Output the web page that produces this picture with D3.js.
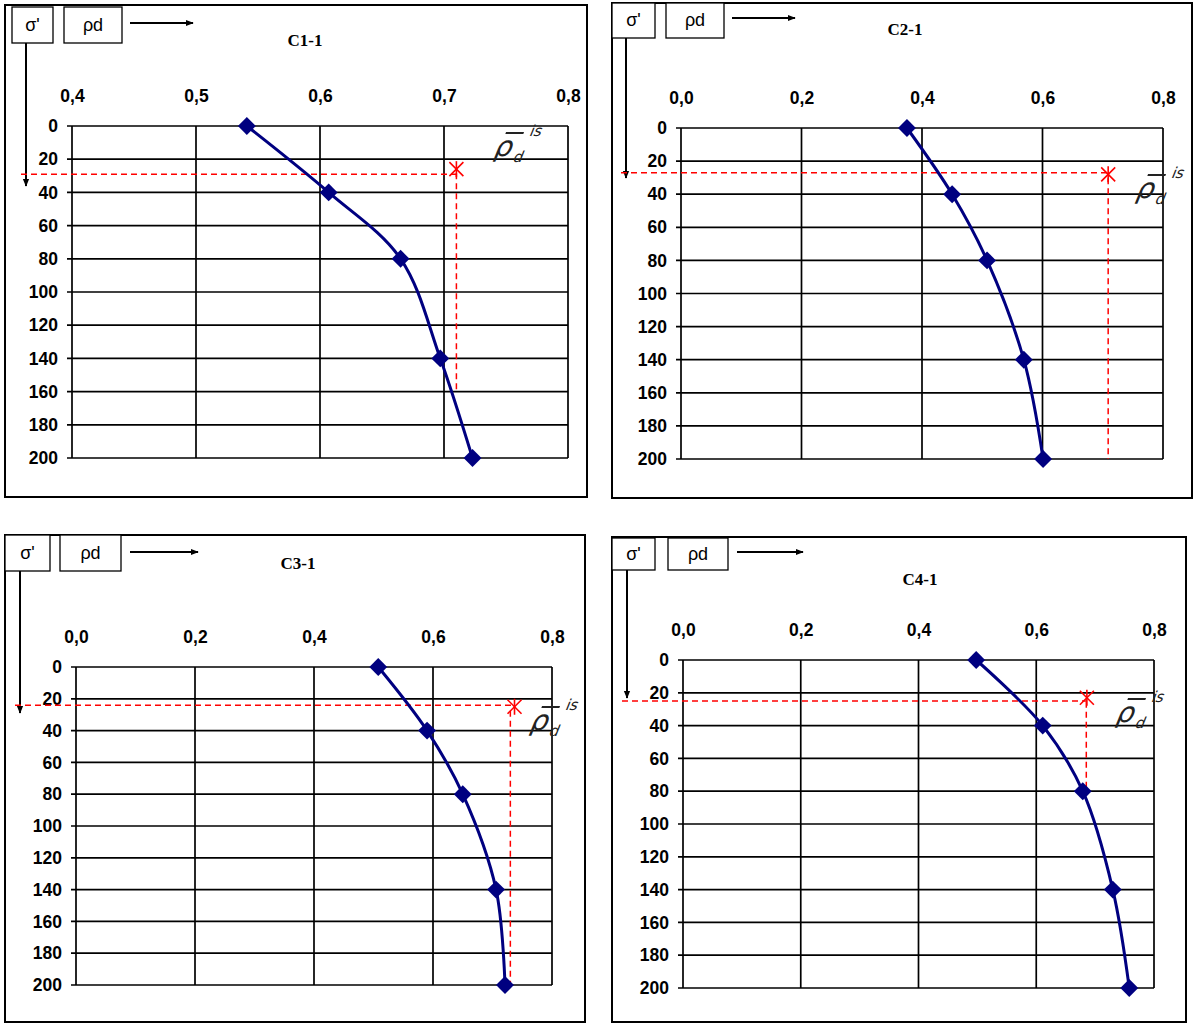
<!DOCTYPE html>
<html>
<head>
<meta charset="utf-8">
<script src="https://cdn.jsdelivr.net/npm/d3@7"></script>
<style>
  html, body { margin: 0; padding: 0; background: #fff; }
  svg { display: block; }
</style>
</head>
<body>
<svg id="chart" width="1194" height="1025"></svg>
<script>
// Effective stress levels (kPa) at which dry density was measured
const stress = [0, 40, 80, 140, 200];
// Dry density ρd per sample
const rhoC1 = [0.541, 0.607, 0.665, 0.697, 0.723];
const rhoC2 = [0.375, 0.450, 0.508, 0.569, 0.601];
const rhoC3 = [0.508, 0.590, 0.650, 0.706, 0.721];
const rhoC4 = [0.498, 0.611, 0.679, 0.730, 0.758];
// In-situ density reference point (ρd, σ') per sample
const refC1 = [0.710, 26];
const refC2 = [0.709, 28];
const refC3 = [0.737, 25];
const refC4 = [0.686, 23];
// Stress level at which the dashed guide crosses the left edge
const guideC1 = 29, guideC2 = 27, guideC3 = 24, guideC4 = 25;
// Axis ticks
const yTicks = [0, 20, 40, 60, 80, 100, 120, 140, 160, 180, 200];
const xTicksC1 = [0.4, 0.5, 0.6, 0.7, 0.8];
const xTicksStd = [0.0, 0.2, 0.4, 0.6, 0.8];
const titles = ["C1-1", "C2-1", "C3-1", "C4-1"];

const svg = d3.select("#chart");
const NAVY = "#000080";
const SANS = "'Liberation Sans', Arial, sans-serif";
const fmt = v => d3.format(".1f")(v).replace(".", ",");

const panels = [
  { title: titles[0], rho: rhoC1, ref: refC1, guide: guideC1, vDropTo: 160, xTicks: xTicksC1, xDomain: [0.4, 0.8],
    outer: [5, 5, 587, 497], plot: [72, 126, 568, 458],
    sigBox: [12, 7, 53, 43], rhoBox: [64, 7, 122, 43], arrowY: 23, arrowX: [130, 193], downX: 26, downEnd: 186,
    titlePos: [305, 46], vSlant: 0, symPos: [494, 152] },
  { title: titles[1], rho: rhoC2, ref: refC2, guide: guideC2, vDropTo: 200, xTicks: xTicksStd, xDomain: [0, 0.8],
    outer: [612, 3, 1192, 498], plot: [681, 128, 1163, 459],
    sigBox: [612, 3, 655, 38], rhoBox: [666, 3, 724, 38], arrowY: 18, arrowX: [732, 795], downX: 626, downEnd: 178,
    titlePos: [905, 35], vSlant: 0, symPos: [1136, 194] },
  { title: titles[2], rho: rhoC3, ref: refC3, guide: guideC3, vDropTo: 200, xTicks: xTicksStd, xDomain: [0, 0.8],
    outer: [5, 535, 585, 1022], plot: [76, 667, 552, 985],
    sigBox: [5, 535, 50, 571], rhoBox: [60, 535, 121, 571], arrowY: 552, arrowX: [130, 198], downX: 20, downEnd: 713,
    titlePos: [298, 569], vSlant: -0.007, symPos: [530, 726] },
  { title: titles[3], rho: rhoC4, ref: refC4, guide: guideC4, vDropTo: 80, xTicks: xTicksStd, xDomain: [0, 0.8],
    outer: [612, 537, 1186, 1022], plot: [683, 660, 1154, 988],
    sigBox: [612, 538, 655, 570], rhoBox: [668, 538, 728, 570], arrowY: 552, arrowX: [737, 803], downX: 627, downEnd: 698,
    titlePos: [920, 585], vSlant: -0.001, symPos: [1116, 718] }
];

svg.append("defs").append("marker")
  .attr("id", "arrowHead").attr("viewBox", "0 0 10 10").attr("refX", 9).attr("refY", 5)
  .attr("markerWidth", 8).attr("markerHeight", 8).attr("markerUnits", "userSpaceOnUse")
  .attr("orient", "auto")
  .append("path").attr("d", "M0,1 L10,5 L0,9 Z").attr("fill", "#000");

panels.forEach(p => {
  const g = svg.append("g");
  const [ox0, oy0, ox1, oy1] = p.outer;
  const [L, T, R, B] = p.plot;

  // Panel frame
  g.append("rect").attr("x", ox0).attr("y", oy0).attr("width", ox1 - ox0).attr("height", oy1 - oy0)
    .attr("fill", "#fff").attr("stroke", "#000").attr("stroke-width", 2);

  const x = d3.scaleLinear().domain(p.xDomain).range([L, R]);
  const y = d3.scaleLinear().domain([0, 200]).range([T, B]);

  // Grid
  g.append("g").selectAll("line").data(yTicks).join("line")
    .attr("x1", L - 5).attr("x2", R).attr("y1", d => y(d)).attr("y2", d => y(d))
    .attr("stroke", "#000").attr("stroke-width", 1.7);
  g.append("g").selectAll("line").data(p.xTicks).join("line")
    .attr("x1", d => x(d)).attr("x2", d => x(d)).attr("y1", T).attr("y2", B)
    .attr("stroke", "#000").attr("stroke-width", 1.7);

  // Axes (labels only; grid drawn above)
  const yAxis = d3.axisLeft(y).tickValues(yTicks).tickSize(0).tickPadding(14).tickFormat(d3.format("d"));
  const ya = g.append("g").attr("transform", `translate(${L},0)`).call(yAxis);
  ya.select(".domain").remove();
  ya.selectAll("text").attr("font-family", SANS)
    .attr("font-weight", "bold").attr("font-size", 17.5).attr("fill", "#000");

  const xAxis = d3.axisTop(x).tickValues(p.xTicks).tickSize(0).tickPadding(24).tickFormat(fmt);
  const xa = g.append("g").attr("transform", `translate(0,${T})`).call(xAxis);
  xa.select(".domain").remove();
  xa.selectAll("text").attr("font-family", SANS)
    .attr("font-weight", "bold").attr("font-size", 17.5).attr("fill", "#000");

  // Header boxes: σ' and ρd
  [[p.sigBox, "σ'"], [p.rhoBox, "ρd"]].forEach(([b, t]) => {
    g.append("rect").attr("x", b[0]).attr("y", b[1]).attr("width", b[2] - b[0]).attr("height", b[3] - b[1])
      .attr("fill", "#fff").attr("stroke", "#000").attr("stroke-width", 1.3);
    g.append("text").attr("x", (b[0] + b[2]) / 2).attr("y", (b[1] + b[3]) / 2 + 1)
      .attr("text-anchor", "middle").attr("dominant-baseline", "middle")
      .attr("font-family", SANS).attr("font-size", 18).text(t);
  });
  g.append("line").attr("x1", p.arrowX[0]).attr("x2", p.arrowX[1]).attr("y1", p.arrowY).attr("y2", p.arrowY)
    .attr("stroke", "#000").attr("stroke-width", 2).attr("marker-end", "url(#arrowHead)");
  g.append("line").attr("x1", p.downX).attr("x2", p.downX).attr("y1", p.sigBox[3]).attr("y2", p.downEnd)
    .attr("stroke", "#000").attr("stroke-width", 2).attr("marker-end", "url(#arrowHead)");

  // Title
  g.append("text").attr("x", p.titlePos[0]).attr("y", p.titlePos[1]).attr("text-anchor", "middle")
    .attr("font-family", "'Liberation Serif', 'Times New Roman', serif").attr("font-weight", "bold")
    .attr("font-size", 17).text(p.title);

  // Dashed guides to the in-situ point
  const [rx, ry] = p.ref;
  g.append("line").attr("x1", p.downX - 5).attr("x2", x(rx)).attr("y1", y(p.guide)).attr("y2", y(p.guide))
    .attr("stroke", "#ff0000").attr("stroke-width", 1.5).attr("stroke-dasharray", "6,4");
  g.append("line").attr("x1", x(rx + p.vSlant)).attr("x2", x(rx + p.vSlant)).attr("y1", y(ry) + 4).attr("y2", y(p.vDropTo))
    .attr("stroke", "#ff0000").attr("stroke-width", 1.5).attr("stroke-dasharray", "6,4");
  // Star marker
  const sx = x(rx), sy = y(ry), s = 7;
  const star = g.append("g").attr("stroke", "#ff0000").attr("stroke-width", 1.6);
  star.append("line").attr("x1", sx - s).attr("x2", sx + s).attr("y1", sy - s).attr("y2", sy + s);
  star.append("line").attr("x1", sx - s).attr("x2", sx + s).attr("y1", sy + s).attr("y2", sy - s);
  star.append("line").attr("x1", sx).attr("x2", sx).attr("y1", sy - s - 1).attr("y2", sy + s + 1);

  // In-situ density symbol ρ̄d^is (slanted)
  const lg = g.append("g").attr("transform", `translate(${p.symPos[0]},${p.symPos[1]}) skewX(-22)`)
    .attr("font-family", "'DejaVu Sans', sans-serif").attr("fill", "#222");
  lg.append("line").attr("x1", 4).attr("x2", 22).attr("y1", -19).attr("y2", -19).attr("stroke", "#222").attr("stroke-width", 1.8);
  lg.append("text").attr("x", 0).attr("y", 4).attr("font-size", 28).text("ρ");
  lg.append("text").attr("x", 22).attr("y", 10).attr("font-size", 15).text("d");
  lg.append("text").attr("x", 28).attr("y", -16).attr("font-size", 15).text("is");

  // Density curve
  const pts = stress.map((s, i) => [p.rho[i], s]);
  const line = d3.line().x(d => x(d[0])).y(d => y(d[1])).curve(d3.curveCatmullRom.alpha(0.5));
  g.append("path").datum(pts).attr("d", line).attr("fill", "none").attr("stroke", NAVY).attr("stroke-width", 3);
  g.append("g").selectAll("path").data(pts).join("path")
    .attr("d", d3.symbol().type(d3.symbolSquare).size(160))
    .attr("transform", d => `translate(${x(d[0])},${y(d[1])}) rotate(45)`)
    .attr("fill", NAVY);
});
</script>
</body>
</html>
